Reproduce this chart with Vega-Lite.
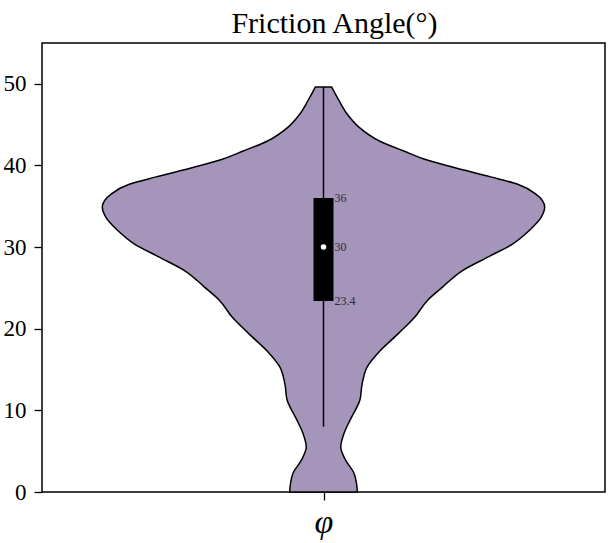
{
  "$schema": "https://vega.github.io/schema/vega-lite/v6.json",
  "width": 563,
  "height": 449,
  "autosize": {"type": "none"},
  "padding": {"left": 42, "top": 43, "right": 3, "bottom": 51},
  "background": "white",
  "title": {
    "text": "Friction Angle(°)",
    "font": "Liberation Serif",
    "fontSize": 30,
    "fontWeight": "normal",
    "color": "black",
    "anchor": "middle",
    "offset": 4,
    "dx": 11
  },
  "config": {
    "view": {"stroke": "black", "strokeWidth": 1.5},
    "axis": {
      "grid": false,
      "domain": false,
      "tickColor": "black",
      "tickWidth": 1.3,
      "tickSize": 8,
      "labelColor": "black",
      "labelFont": "Liberation Serif",
      "title": null
    }
  },
  "datasets": {
    "violin": [
      {"value": 0, "lo": -0.153, "hi": 0.153},
      {"value": 1.1, "lo": -0.149, "hi": 0.149},
      {"value": 2.3, "lo": -0.138, "hi": 0.138},
      {"value": 3.9, "lo": -0.1, "hi": 0.1},
      {"value": 5.5, "lo": -0.078, "hi": 0.078},
      {"value": 7.2, "lo": -0.093, "hi": 0.093},
      {"value": 8.8, "lo": -0.12, "hi": 0.12},
      {"value": 10.4, "lo": -0.151, "hi": 0.151},
      {"value": 11.2, "lo": -0.164, "hi": 0.164},
      {"value": 13.3, "lo": -0.175, "hi": 0.175},
      {"value": 15.3, "lo": -0.197, "hi": 0.197},
      {"value": 17.3, "lo": -0.256, "hi": 0.256},
      {"value": 19.4, "lo": -0.338, "hi": 0.338},
      {"value": 21.4, "lo": -0.412, "hi": 0.412},
      {"value": 23.5, "lo": -0.471, "hi": 0.471},
      {"value": 25.1, "lo": -0.538, "hi": 0.538},
      {"value": 27.1, "lo": -0.627, "hi": 0.627},
      {"value": 28.8, "lo": -0.745, "hi": 0.745},
      {"value": 30.4, "lo": -0.856, "hi": 0.856},
      {"value": 32.0, "lo": -0.929, "hi": 0.929},
      {"value": 33.7, "lo": -0.985, "hi": 0.985},
      {"value": 34.9, "lo": -1.0, "hi": 1.0},
      {"value": 36.5, "lo": -0.96, "hi": 0.96},
      {"value": 37.7, "lo": -0.878, "hi": 0.878},
      {"value": 38.6, "lo": -0.756, "hi": 0.756},
      {"value": 39.8, "lo": -0.582, "hi": 0.582},
      {"value": 40.6, "lo": -0.476, "hi": 0.476},
      {"value": 41.8, "lo": -0.36, "hi": 0.36},
      {"value": 43.0, "lo": -0.253, "hi": 0.253},
      {"value": 44.7, "lo": -0.16, "hi": 0.16},
      {"value": 46.3, "lo": -0.107, "hi": 0.107},
      {"value": 47.9, "lo": -0.071, "hi": 0.071},
      {"value": 49.6, "lo": -0.037, "hi": 0.037}
    ],
    "stats": [
      {"pos": 0, "min": 8, "q1": 23.4, "median": 30, "q3": 36, "max": 49.6}
    ],
    "labels": [
      {"pos": 0, "v": 36, "label": "36"},
      {"pos": 0, "v": 30, "label": "30"},
      {"pos": 0, "v": 23.4, "label": "23.4"}
    ]
  },
  "layer": [
    {
      "data": {"name": "violin"},
      "mark": {"type": "area", "orient": "horizontal", "interpolate": "monotone", "fill": "#a595ba", "fillOpacity": 1, "stroke": "black", "strokeWidth": 1.5},
      "encoding": {
        "y": {"field": "value", "type": "quantitative", "scale": {"domain": [0, 55], "nice": false, "zero": false},
          "axis": {"values": [0, 10, 20, 30, 40, 50], "labelFontSize": 23, "labelPadding": 8}},
        "x": {"field": "lo", "type": "quantitative", "scale": {"domain": [-1.25, 1.25], "nice": false, "zero": false},
          "axis": {"values": [0], "labelExpr": "'φ'", "labelFontSize": 34, "labelFontStyle": "italic", "labelPadding": 5, "labelBaseline": "top"}},
        "x2": {"field": "hi"}
      }
    },
    {
      "data": {"name": "stats"},
      "mark": {"type": "rule", "color": "black", "strokeWidth": 1.5},
      "encoding": {
        "x": {"field": "pos", "type": "quantitative"},
        "y": {"field": "min", "type": "quantitative"},
        "y2": {"field": "max"}
      }
    },
    {
      "data": {"name": "stats"},
      "mark": {"type": "bar", "color": "black", "size": 20, "orient": "vertical"},
      "encoding": {
        "x": {"field": "pos", "type": "quantitative"},
        "y": {"field": "q1", "type": "quantitative"},
        "y2": {"field": "q3"}
      }
    },
    {
      "data": {"name": "stats"},
      "mark": {"type": "circle", "color": "white", "size": 30, "opacity": 1},
      "encoding": {
        "x": {"field": "pos", "type": "quantitative"},
        "y": {"field": "median", "type": "quantitative"}
      }
    },
    {
      "data": {"name": "labels"},
      "mark": {"type": "text", "align": "left", "baseline": "middle", "dx": 11, "font": "Liberation Serif", "fontSize": 12, "color": "#2e2838"},
      "encoding": {
        "x": {"field": "pos", "type": "quantitative"},
        "y": {"field": "v", "type": "quantitative"},
        "text": {"field": "label"}
      }
    }
  ]
}
